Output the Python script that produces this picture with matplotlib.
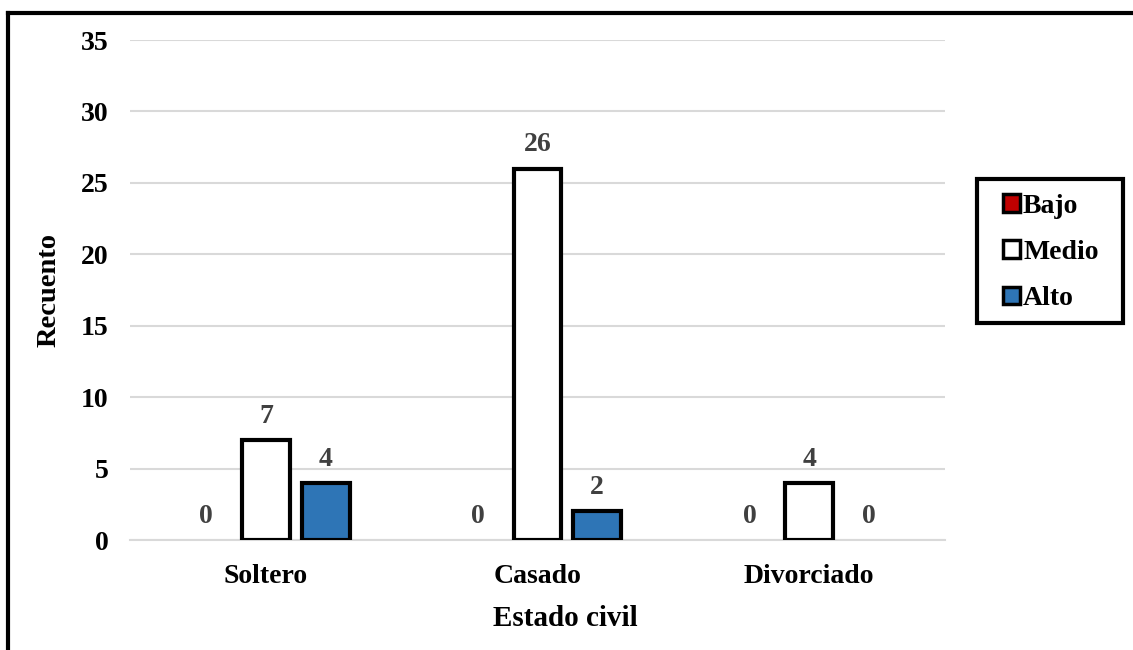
import matplotlib
matplotlib.use("Agg")
import matplotlib.pyplot as plt
import numpy as np
from matplotlib.patches import Patch, Rectangle
from matplotlib.lines import Line2D

categories = ["Soltero", "Casado", "Divorciado"]
series_names = ["Bajo", "Medio", "Alto"]
bajo = [0, 0, 0]
medio = [7, 26, 4]
alto = [4, 2, 0]
y_ticks = [0, 5, 10, 15, 20, 25, 30, 35]

colors = ["#C00000", "#FFFFFF", "#2E75B6"]

plt.rcParams['font.family'] = ['Liberation Serif', 'DejaVu Serif']
plt.rcParams['font.weight'] = 'bold'

W, H = 1133, 650
fig = plt.figure(figsize=(W / 100, H / 100), dpi=100)
ax = fig.add_axes([130/W, 110/H, 815/W, 500/H])

x = np.arange(len(categories))
width = 0.176
offset = 0.22
values = [bajo, medio, alto]
for i, (vals, c) in enumerate(zip(values, colors)):
    pos = x + (i - 1) * offset
    for p, v in zip(pos, vals):
        if v > 0:
            ax.bar(p, v, width=width, color=c, edgecolor='black', linewidth=3, zorder=3)
        ax.annotate(str(v), (p, v), xytext=(0, 8), textcoords='offset points',
                    ha='center', va='bottom', fontsize=20, fontweight='bold', color='#404040')

ax.set_xlim(-0.5, 2.5)
ax.set_ylim(0, 35)
ax.set_yticks(y_ticks)
ax.set_xticks(x)
ax.set_xticklabels(categories)
ax.tick_params(axis='both', length=0, labelsize=20)
ax.tick_params(axis='y', pad=15.5)
ax.tick_params(axis='x', pad=17)
for lbl in ax.get_xticklabels() + ax.get_yticklabels():
    lbl.set_fontweight('bold')
ax.grid(axis='y', color='#D9D9D9', linewidth=1.5, zorder=0)
for s in ['top', 'right', 'left']:
    ax.spines[s].set_visible(False)
ax.spines['bottom'].set_color('#D9D9D9')
ax.spines['bottom'].set_linewidth(1.5)

ax.set_ylabel("Recuento", fontsize=20.5, fontweight='bold', labelpad=14)
ax.set_xlabel("Estado civil", fontsize=21, fontweight='bold')
ax.xaxis.set_label_coords((565 - 130) / 815, -(618 - 540) / 500)
ax.xaxis.label.set_va('center')

handles = [Patch(facecolor=c, edgecolor='black', linewidth=2.5) for c in colors]
leg = fig.legend(handles, series_names, loc='center left',
                 bbox_to_anchor=(1003/W, 1 - 252.5/H),
                 frameon=False, handlelength=0.6, handleheight=0.6, handletextpad=0.12,
                 labelspacing=0.77, borderpad=0, borderaxespad=0,
                 prop={'weight': 'bold', 'size': 20, 'family': 'Liberation Serif'})

fig.add_artist(Rectangle((977/W, 1 - 323/H), (1123 - 977)/W, (323 - 179)/H,
                         transform=fig.transFigure, fill=False, edgecolor='black', linewidth=3))

# outer border (top and left)
fig.add_artist(Line2D([8/W, 1.0], [1 - 13/H, 1 - 13/H], color='black', linewidth=3,
                      transform=fig.transFigure))
fig.add_artist(Line2D([8/W, 8/W], [0, 1 - 13/H], color='black', linewidth=3,
                      transform=fig.transFigure))

fig.savefig("out.png", dpi=100)
